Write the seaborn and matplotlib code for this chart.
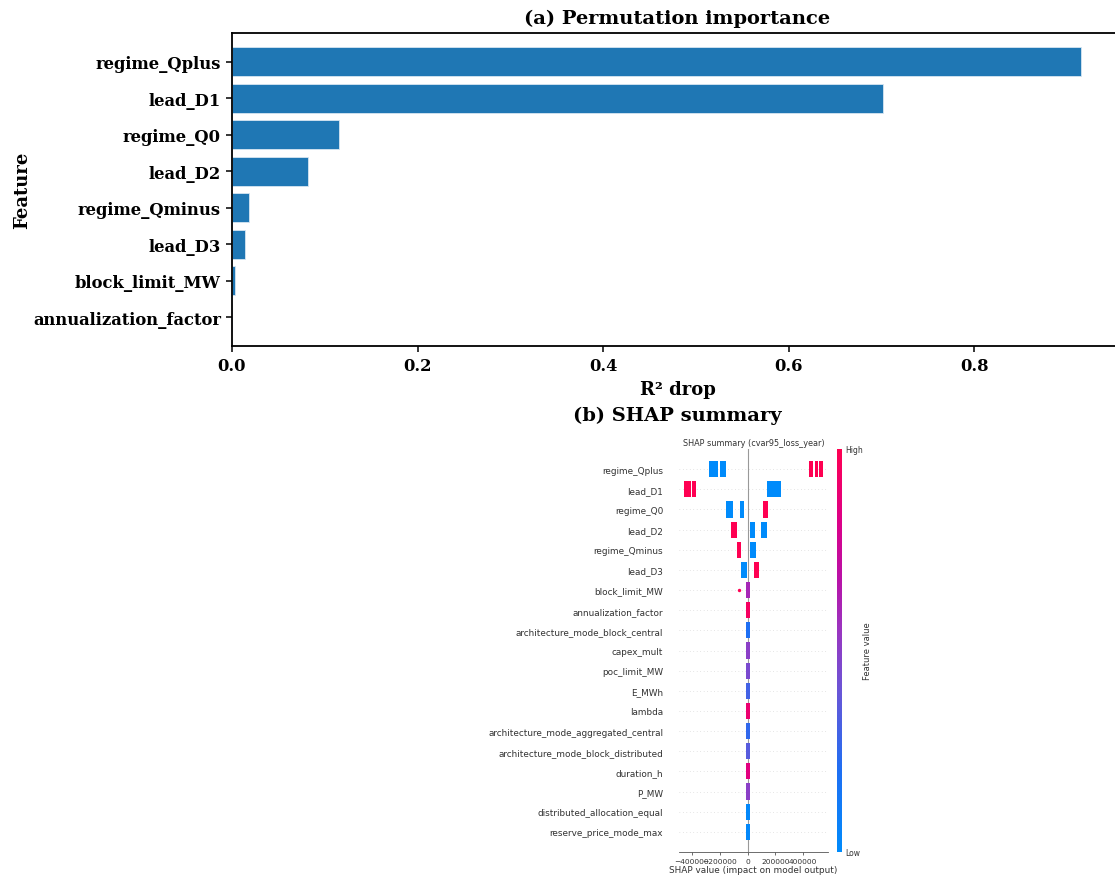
import numpy as np
import pandas as pd
import matplotlib
matplotlib.use("Agg")
import matplotlib.pyplot as plt
import seaborn as sns
from matplotlib.colors import LinearSegmentedColormap, Normalize
from matplotlib.cm import ScalarMappable

# ---- (a) permutation importance ----
perm_features = ["regime_Qplus", "lead_D1", "regime_Q0", "lead_D2",
                 "regime_Qminus", "lead_D3", "block_limit_MW", "annualization_factor"]
perm_r2_drop = [0.9145, 0.702, 0.115, 0.082, 0.0183, 0.0145, 0.0028, 0.0002]

# ---- (b) SHAP summary ----
shap_features = ["regime_Qplus", "lead_D1", "regime_Q0", "lead_D2", "regime_Qminus",
                 "lead_D3", "block_limit_MW", "annualization_factor",
                 "architecture_mode_block_central", "capex_mult", "poc_limit_MW",
                 "E_MWh", "lambda", "architecture_mode_aggregated_central",
                 "architecture_mode_block_distributed", "duration_h", "P_MW",
                 "distributed_allocation_equal", "reserve_price_mode_max"]

# point clusters per feature: SHAP value range and (normalised) feature value
cluster_feature = ["regime_Qplus", "regime_Qplus", "regime_Qplus", "regime_Qplus", "regime_Qplus",
                   "lead_D1", "lead_D1", "lead_D1",
                   "regime_Q0", "regime_Q0", "regime_Q0",
                   "lead_D2", "lead_D2", "lead_D2",
                   "regime_Qminus", "regime_Qminus",
                   "lead_D3", "lead_D3",
                   "block_limit_MW", "annualization_factor",
                   "architecture_mode_block_central", "capex_mult", "poc_limit_MW",
                   "E_MWh", "lambda", "architecture_mode_aggregated_central",
                   "architecture_mode_block_distributed", "duration_h", "P_MW",
                   "distributed_allocation_equal", "reserve_price_mode_max"]
cluster_low = [-276000, -199000, 443000, 482000, 511000,
               -456000, -403000, 141000,
               -156000, -53000, 108000,
               -120000, 17000, 94000,
               -77000, 17000,
               -46000, 45000,
               -12000, -13000,
               -13000, -13000, -13000,
               -13000, -13000, -13000,
               -13000, -13000, -13000,
               -13000, -13000]
cluster_high = [-211000, -156000, 472000, 504000, 540000,
                -410000, -374000, 240000,
                -108000, -24000, 148000,
                -79000, 55000, 137000,
                -46000, 58000,
                -7000, 79000,
                17000, 15000,
                15000, 15000, 15000,
                15000, 15000, 15000,
                15000, 15000, 15000,
                15000, 15000]
cluster_value = [0.0, 0.0, 1.0, 1.0, 1.0,
                 1.0, 1.0, 0.0,
                 0.0, 0.0, 1.0,
                 1.0, 0.0, 0.0,
                 1.0, 0.0,
                 0.0, 1.0,
                 0.6, 0.95,
                 0.2, 0.5, 0.45,
                 0.3, 0.9, 0.25,
                 0.35, 0.85, 0.5,
                 0.02, 0.02]

outlier_feature = ["block_limit_MW"]
outlier_shap = [-60000]
outlier_value = [1.0]

shap_ticks = [-400000, -200000, 0, 200000, 400000]

# red-blue feature value colour map
red_blue = LinearSegmentedColormap.from_list(
    "red_blue",
    [(0.0, "#008bfb"), (0.2, "#1e6ff3"), (0.4, "#6a55d6"), (0.55, "#9a35c0"),
     (0.68, "#b911a7"), (0.82, "#dc0088"), (1.0, "#ff0052")])

W, H = 1115, 878
fig = plt.figure(figsize=(W / 100, H / 100), dpi=100)


def box(x0, y0, x1, y1):
    return [x0 / W, 1 - y1 / H, (x1 - x0) / W, (y1 - y0) / H]


serif = {"family": "DejaVu Serif", "weight": "bold"}

# ---------- panel (a) ----------
ax = fig.add_axes(box(232, 34, 1123, 347))
perm_df = pd.DataFrame({"feature": perm_features, "drop": perm_r2_drop})
sns.barplot(data=perm_df, x="drop", y="feature", color="#1f77b4", saturation=1,
            width=0.8, edgecolor="#d6e6f2", linewidth=0.6, ax=ax)
ax.set_xlim(0, max(perm_r2_drop) * 1.05)
ax.set_ylim(len(perm_features) - 1 + 0.79, -0.79)
for s in ax.spines.values():
    s.set_linewidth(1.3)
ax.tick_params(length=4.5, width=1.1)
ax.set_xticks([0.0, 0.2, 0.4, 0.6, 0.8])
ax.set_xticklabels(["0.0", "0.2", "0.4", "0.6", "0.8"], fontdict=dict(size=11.8, **serif))
ax.set_yticks(range(len(perm_features)))
ax.set_yticklabels(perm_features, fontdict=dict(size=11.8, **serif))
ax.set_xlabel("R² drop", fontsize=13, labelpad=4, **serif)
ax.set_ylabel("Feature", fontsize=13, labelpad=1, **serif)
ax.set_title("(a) Permutation importance", fontsize=14, pad=7, **serif)

fig.text(677.5 / W, 1 - 416 / H, "(b) SHAP summary", ha="center", va="center",
         fontsize=14, **serif)

# ---------- panel (b) ----------
sax = fig.add_axes(box(679, 450, 828, 853))
n = len(shap_features)
row_of = {f: n - 1 - i for i, f in enumerate(shap_features)}
for r in range(n):
    sax.axhline(r, color="#cccccc", lw=0.5, dashes=(1, 4), zorder=-1)
sax.axvline(0, color="#999999", lw=0.8, zorder=-1)

for f, lo, hi, v in zip(cluster_feature, cluster_low, cluster_high, cluster_value):
    sax.barh(row_of[f], hi - lo, left=lo, height=0.8, color=red_blue(v), lw=0)
sns.scatterplot(x=outlier_shap, y=[row_of[f] for f in outlier_feature],
                color=[red_blue(v) for v in outlier_value], s=6, linewidth=0, ax=sax)

sax.set_xlim(-493000, 579000)
sax.set_ylim(-1, n)
sax.set_yticks(range(n))
sax.set_yticklabels(list(reversed(shap_features)), fontsize=6.4, color="#333333",
                    family="DejaVu Sans")
sax.set_xticks(shap_ticks)
sax.set_xticklabels([f"{t}".replace("-", "\u2212") for t in shap_ticks], fontsize=5.4,
                    color="#333333", family="DejaVu Sans")
sax.tick_params(axis="y", length=0, pad=11.5)
sax.tick_params(axis="x", length=2.5, width=0.5, pad=1.5, colors="#333333")
for side in ("top", "right", "left"):
    sax.spines[side].set_visible(False)
sax.spines["bottom"].set_linewidth(0.6)
sax.spines["bottom"].set_color("#555555")
sax.set_xlabel("SHAP value (impact on model output)", fontsize=6.4, color="#333333",
               family="DejaVu Sans", labelpad=1)
sax.set_title("SHAP summary (cvar95_loss_year)", fontsize=5.9, color="#333333",
              family="DejaVu Sans", pad=3)

cax = fig.add_axes(box(837, 450, 842, 853))
cb = fig.colorbar(ScalarMappable(norm=Normalize(0, 1), cmap=red_blue), cax=cax, ticks=[0, 1])
cb.set_ticklabels(["Low", "High"])
cb.outline.set_visible(False)
cb.ax.tick_params(labelsize=5.5, length=0, pad=2, labelcolor="#333333")
for lab in cb.ax.get_yticklabels():
    lab.set_family("DejaVu Sans")
cb.set_label("Feature value", size=6.0, labelpad=0, color="#333333", family="DejaVu Sans")

fig.savefig("out.png", dpi=100)
